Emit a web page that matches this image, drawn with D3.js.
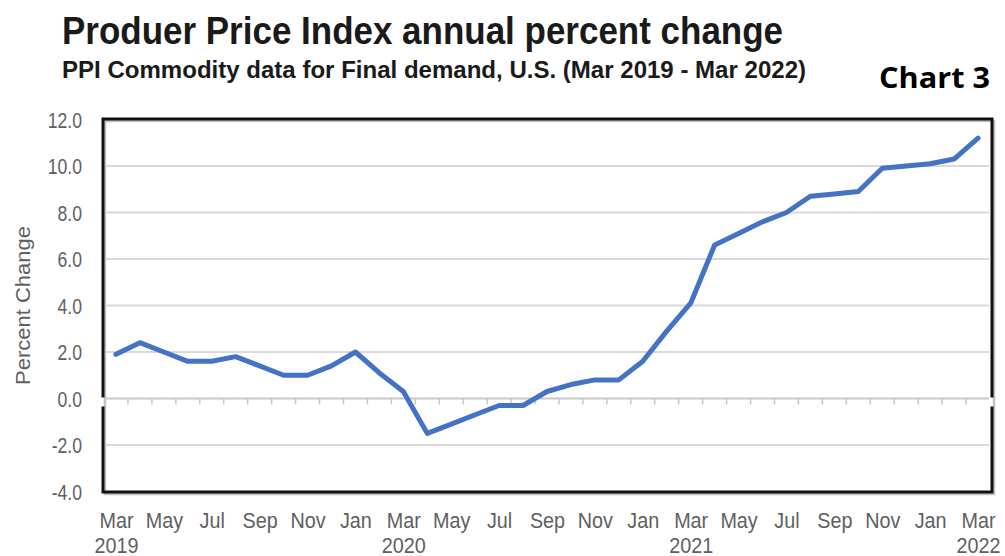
<!DOCTYPE html>
<html>
<head>
<meta charset="utf-8">
<script src="https://cdn.jsdelivr.net/npm/d3@7"></script>
<style>
  html, body { margin: 0; padding: 0; background: #fff; }
  svg { display: block; }
</style>
</head>
<body>
<svg id="chart" width="1005" height="556"></svg>
<script>
// Monthly observations, Mar 2019 – Mar 2022
const months = [
  "2019-03","2019-04","2019-05","2019-06","2019-07","2019-08","2019-09","2019-10","2019-11","2019-12",
  "2020-01","2020-02","2020-03","2020-04","2020-05","2020-06","2020-07","2020-08","2020-09","2020-10","2020-11","2020-12",
  "2021-01","2021-02","2021-03","2021-04","2021-05","2021-06","2021-07","2021-08","2021-09","2021-10","2021-11","2021-12",
  "2022-01","2022-02","2022-03"
];
// Final demand PPI, 12-month percent change
const pctChange = [
  1.9, 2.4, 2.0, 1.6, 1.6, 1.8, 1.4, 1.0, 1.0, 1.4,
  2.0, 1.1, 0.3, -1.5, -1.1, -0.7, -0.3, -0.3, 0.3, 0.6, 0.8, 0.8,
  1.6, 2.9, 4.1, 6.6, 7.1, 7.6, 8.0, 8.7, 8.8, 8.9, 9.9, 10.0,
  10.1, 10.3, 11.2
];
const yTicks = [-4, -2, 0, 2, 4, 6, 8, 10, 12];
const monthNames = ["Jan","Feb","Mar","Apr","May","Jun","Jul","Aug","Sep","Oct","Nov","Dec"];

const titleText = "Produer Price Index annual percent change";
const subtitleText = "PPI Commodity data for Final demand, U.S. (Mar 2019 - Mar 2022)";
const tagText = "Chart 3";
const yAxisTitle = "Percent Change";

const svg = d3.select("#chart");
const plot = { left: 103, right: 992, top: 119, bottom: 492 };

const x = d3.scaleLinear().domain([-0.5, months.length - 0.5]).range([plot.left + 1, plot.right - 2]);
const y = d3.scaleLinear().domain([-4, 12]).range([plot.bottom - 0.5, plot.top + 0.5]);

const labelFont = "'Liberation Sans', Arial, sans-serif";
const labelColor = "#5f5f5f";
const labelSize = 22;

// Titles (narrow bold face, squeezed to its set width)
svg.append("text")
  .attr("x", 62).attr("y", 44)
  .attr("font-family", "'Liberation Sans', Arial, sans-serif")
  .attr("font-weight", "bold").attr("font-size", 38)
  .attr("fill", "#1a1a1a")
  .attr("textLength", 721).attr("lengthAdjust", "spacingAndGlyphs")
  .text(titleText);

svg.append("text")
  .attr("x", 62).attr("y", 78)
  .attr("font-family", "'Liberation Sans', Arial, sans-serif")
  .attr("font-weight", "bold").attr("font-size", 24.5)
  .attr("fill", "#1a1a1a")
  .attr("textLength", 744).attr("lengthAdjust", "spacingAndGlyphs")
  .text(subtitleText);

svg.append("text")
  .attr("x", 879).attr("y", 88)
  .attr("font-family", "'Open Sans', 'Noto Sans', sans-serif")
  .attr("font-weight", "bold").attr("font-size", 28)
  .attr("fill", "#000")
  .attr("textLength", 111).attr("lengthAdjust", "spacingAndGlyphs")
  .text(tagText);

// Drop shadow behind the plot frame
svg.append("rect")
  .attr("x", plot.left + 2).attr("y", plot.top + 2)
  .attr("width", plot.right - plot.left).attr("height", plot.bottom - plot.top)
  .attr("fill", "none").attr("stroke", "#9a9a9a").attr("stroke-width", 2.5)
  .attr("opacity", 0.6);

// Horizontal gridlines
svg.append("g")
  .selectAll("line")
  .data(yTicks.filter(d => d !== -4 && d !== 12))
  .join("line")
  .attr("x1", plot.left + 3).attr("x2", plot.right - 3)
  .attr("y1", d => y(d)).attr("y2", d => y(d))
  .attr("stroke", d => d === 0 ? "#c8c8c8" : "#d9d9d9")
  .attr("stroke-width", 2);

// Month tick marks hanging below the zero line
const tickBounds = d3.range(months.length - 1).map(i => i + 0.5);
svg.append("g")
  .selectAll("line")
  .data(tickBounds)
  .join("line")
  .attr("x1", d => x(d)).attr("x2", d => x(d))
  .attr("y1", y(0)).attr("y2", y(0) + 6)
  .attr("stroke", "#c8c8c8").attr("stroke-width", 1.5);

// Plot frame, broken where the zero axis crosses the sides
const gapTop = y(0) - 1, gapBot = y(0) + 8;
const frame = svg.append("g").attr("stroke", "#111").attr("stroke-width", 3).attr("fill", "none");
frame.append("path").attr("d",
  `M${plot.left},${gapTop} V${plot.top} H${plot.right} V${gapTop}`);
frame.append("path").attr("d",
  `M${plot.left},${gapBot} V${plot.bottom} H${plot.right} V${gapBot}`);

// Y axis labels
const yAxis = d3.axisLeft(y).tickValues(yTicks).tickSize(0).tickPadding(0)
  .tickFormat(d3.format(".1f"));
const gy = svg.append("g").attr("transform", `translate(82,0)`).call(yAxis);
gy.select(".domain").remove();
gy.selectAll("text")
  .attr("x", null)
  .attr("font-family", labelFont).attr("font-size", labelSize)
  .attr("fill", labelColor).attr("dy", "0.36em")
  .attr("transform", "scale(0.8,1)")
  .text(d => d3.format(".1f")(d).replace("−", "-"));

// Y axis title
svg.append("text")
  .attr("transform", `translate(30,${(plot.top + plot.bottom) / 2}) rotate(-90) scale(1,0.9)`)
  .attr("text-anchor", "middle")
  .attr("font-family", labelFont).attr("font-size", labelSize)
  .attr("fill", labelColor)
  .text(yAxisTitle);

// X axis labels: every second month, year under each March
const parse = d3.timeParse("%Y-%m");
const dates = months.map(parse);
const xTickIdx = d3.range(0, months.length, 2);
const xAxis = d3.axisBottom(x).tickValues(xTickIdx).tickSize(0).tickPadding(0)
  .tickFormat(i => monthNames[dates[i].getMonth()]);
const gx = svg.append("g").attr("transform", `translate(0,528)`).call(xAxis);
gx.select(".domain").remove();
gx.selectAll("text")
  .attr("y", 0).attr("dy", null)
  .attr("font-family", labelFont).attr("font-size", labelSize)
  .attr("fill", labelColor)
  .attr("transform", "scale(0.9,1)");
gx.selectAll(".tick")
  .filter(i => dates[i].getMonth() === 2)
  .append("text")
  .attr("y", 25)
  .attr("text-anchor", "middle")
  .attr("font-family", labelFont).attr("font-size", labelSize)
  .attr("fill", labelColor)
  .attr("transform", "scale(0.9,1)")
  .text(i => dates[i].getFullYear());

// Data line
const line = d3.line()
  .x((d, i) => x(i))
  .y(d => y(d));
svg.append("path")
  .datum(pctChange)
  .attr("d", line)
  .attr("fill", "none")
  .attr("stroke", "#4472c4")
  .attr("stroke-width", 5)
  .attr("stroke-linejoin", "round")
  .attr("stroke-linecap", "round");
</script>
</body>
</html>
